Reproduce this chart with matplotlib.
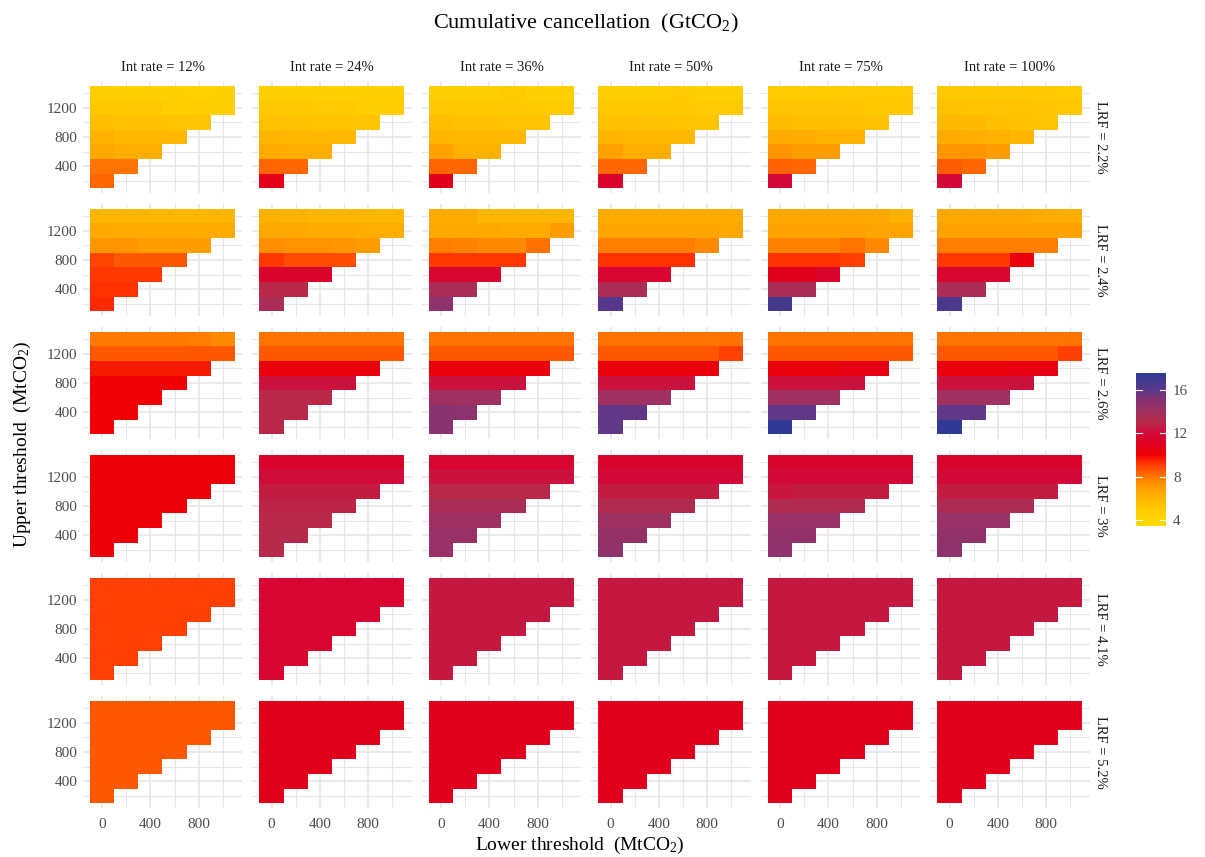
import numpy as np
import matplotlib.pyplot as plt
from matplotlib.colors import LinearSegmentedColormap, Normalize
from matplotlib.cm import ScalarMappable

plt.rcParams['font.family'] = ['Liberation Serif', 'DejaVu Serif']
plt.rcParams['mathtext.fontset'] = 'custom'
plt.rcParams['mathtext.rm'] = 'Liberation Serif'
plt.rcParams['mathtext.it'] = 'Liberation Serif:italic'

int_rates = ['12%', '24%', '36%', '50%', '75%', '100%']
lrf_levels = ['2.2%', '2.4%', '2.6%', '3%', '4.1%', '5.2%']
lower_thr = [0, 200, 400, 600, 800, 1000]
upper_thr = [200, 400, 600, 800, 1000, 1200, 1400]

# cumulative cancellation (GtCO2); one panel per int rate,
# rows from upper threshold 200 (bottom) to 1400 (top), values along lower threshold
lrf_2_2 = [
    [[8.3], [8.0, 8.0], [6.6, 6.3, 6.3], [6.1, 5.9, 5.9, 5.9], [5.6, 5.5, 5.5, 5.3, 5.2],
     [5.1, 5.0, 5.0, 4.7, 4.7, 4.6], [4.7, 4.6, 4.6, 4.5, 4.4, 4.5]],
    [[10.8], [8.3, 8.3], [6.5, 6.3, 6.3], [6.0, 5.9, 5.9, 5.8], [5.5, 5.4, 5.3, 5.3, 5.2],
     [5.0, 5.0, 4.9, 4.9, 4.7, 4.7], [4.6, 4.6, 4.6, 4.5, 4.5, 4.5]],
    [[11.0], [8.3, 8.3], [6.8, 6.2, 6.2], [6.0, 5.9, 5.9, 5.8], [5.6, 5.5, 5.5, 5.3, 5.3],
     [5.1, 5.1, 5.0, 5.0, 4.9, 4.8], [4.7, 4.7, 4.7, 4.9, 4.6, 4.6]],
    [[11.5], [8.3, 8.3], [6.8, 6.3, 6.3], [6.0, 5.9, 5.9, 5.8], [5.5, 5.5, 5.4, 5.3, 5.2],
     [5.1, 5.0, 5.0, 5.0, 4.8, 4.8], [4.7, 4.7, 4.7, 4.8, 4.5, 4.6]],
    [[12.0], [8.4, 8.3], [7.2, 7.0, 7.0], [6.4, 6.4, 6.2, 6.2], [5.7, 5.6, 5.6, 5.5, 5.4],
     [5.3, 5.3, 5.3, 5.2, 5.0, 5.0], [4.9, 4.9, 4.9, 4.8, 4.8, 4.8]],
    [[12.0], [8.5, 8.3], [7.2, 7.2, 7.0], [6.5, 6.3, 6.2, 6.0], [5.8, 5.8, 5.6, 5.5, 5.3],
     [5.4, 5.3, 5.3, 5.3, 5.2, 5.1], [5.0, 5.0, 5.0, 5.0, 5.0, 4.9]],
]
lrf_2_4 = [
    [[9.4], [9.3, 9.3], [9.2, 9.1, 9.1], [8.9, 8.6, 8.6, 8.6], [7.2, 7.2, 7.0, 7.0, 7.0],
     [6.6, 6.5, 6.5, 6.5, 6.4, 6.5], [6.0, 6.0, 5.9, 5.9, 5.9, 6.0]],
    [[13.6], [13.0, 13.0], [11.5, 11.5, 11.5], [9.2, 8.8, 8.8, 8.8], [7.4, 7.3, 7.3, 7.2, 7.0],
     [6.6, 6.6, 6.5, 6.5, 6.3, 6.3], [6.2, 6.1, 6.0, 6.0, 5.9, 5.9]],
    [[14.7], [13.6, 13.6], [11.6, 11.6, 11.6], [9.2, 9.2, 9.2, 9.2], [7.8, 7.7, 7.6, 7.6, 8.1],
     [6.6, 6.6, 6.6, 6.5, 6.5, 7.0], [6.5, 6.5, 6.0, 6.0, 6.0, 6.0]],
    [[16.2], [13.6, 13.6], [11.6, 11.6, 11.6], [9.3, 9.3, 9.3, 9.3], [7.8, 7.8, 7.8, 7.8, 7.6],
     [6.7, 6.7, 6.7, 6.7, 6.7, 6.6], [6.5, 6.5, 6.5, 6.5, 6.5, 6.5]],
    [[16.8], [13.6, 13.6], [11.0, 11.0, 11.5], [9.3, 9.3, 9.3, 9.0], [7.7, 7.7, 7.7, 8.0, 7.6],
     [6.8, 6.8, 6.8, 6.8, 6.7, 6.7], [6.6, 6.6, 6.6, 6.6, 6.6, 6.2]],
    [[16.6], [13.6, 13.6], [11.6, 11.6, 11.6], [9.2, 9.2, 9.2, 10.3], [7.8, 7.8, 7.8, 7.8, 7.8],
     [6.8, 6.8, 6.8, 6.8, 6.8, 6.8], [6.6, 6.6, 6.6, 6.6, 6.5, 6.3]],
]
lrf_2_6 = [
    [[10.0], [10.0, 10.0], [10.0, 10.0, 10.0], [10.0, 10.0, 10.0, 10.0], [9.6, 9.6, 9.6, 9.6, 9.6],
     [8.6, 8.6, 8.6, 8.6, 8.6, 8.6], [7.9, 7.9, 7.9, 7.9, 7.8, 7.6]],
    [[13.0], [13.0, 13.0], [13.0, 13.0, 13.0], [12.3, 12.3, 12.3, 12.3], [10.3, 10.3, 10.3, 10.3, 10.3],
     [8.6, 8.6, 8.6, 8.6, 8.6, 8.6], [8.0, 8.0, 8.0, 8.0, 8.0, 8.0]],
    [[15.0], [15.0, 14.8], [14.0, 14.0, 14.0], [12.3, 12.3, 12.3, 12.3], [10.3, 10.3, 10.3, 10.3, 10.3],
     [8.6, 8.6, 8.6, 8.6, 8.6, 8.6], [8.0, 8.0, 8.0, 8.0, 8.0, 8.0]],
    [[15.9], [15.9, 15.8], [14.0, 14.0, 14.0], [12.3, 12.3, 12.3, 12.3], [10.3, 10.3, 10.3, 10.3, 10.3],
     [8.6, 8.6, 8.6, 8.6, 8.6, 9.0], [8.0, 8.0, 8.0, 8.0, 8.0, 8.0]],
    [[17.5], [15.9, 15.9], [14.0, 14.0, 14.0], [12.3, 12.3, 12.3, 12.3], [10.3, 10.3, 10.3, 10.6, 10.6],
     [8.6, 8.6, 8.6, 8.6, 8.6, 8.6], [8.0, 8.0, 8.0, 8.0, 8.0, 8.0]],
    [[17.5], [15.9, 15.9], [14.0, 14.0, 14.0], [12.3, 12.3, 12.3, 12.3], [10.3, 10.3, 10.3, 10.5, 10.5],
     [8.6, 8.6, 8.6, 8.6, 8.6, 9.0], [8.0, 8.0, 8.0, 8.0, 8.0, 8.0]],
]
lrf_3 = [
    [[10.1], [10.1, 10.1], [10.1, 10.1, 10.1], [10.1, 10.1, 10.1, 10.1], [10.1, 10.1, 10.1, 10.1, 10.1],
     [10.1, 10.1, 10.1, 10.1, 10.1, 10.1], [10.1, 10.1, 10.1, 10.1, 10.1, 10.1]],
    [[13.1], [13.1, 13.1], [13.0, 13.0, 13.0], [12.9, 12.9, 12.9, 12.9], [12.6, 12.6, 12.6, 12.6, 12.6],
     [12.1, 12.1, 12.1, 12.1, 12.1, 12.1], [11.5, 11.5, 11.5, 11.5, 11.5, 11.5]],
    [[14.3], [14.3, 14.3], [14.1, 14.1, 14.1], [13.6, 13.6, 13.6, 13.6], [13.0, 13.0, 13.0, 13.0, 13.0],
     [12.3, 12.3, 12.3, 12.3, 12.3, 12.3], [11.6, 11.6, 11.6, 11.6, 11.6, 11.6]],
    [[14.6], [14.5, 14.5], [14.1, 14.1, 14.1], [13.3, 13.3, 13.3, 13.3], [12.6, 12.6, 12.6, 12.6, 12.6],
     [12.0, 12.0, 12.0, 12.0, 12.0, 12.0], [11.5, 11.5, 11.5, 11.5, 11.5, 11.5]],
    [[14.7], [14.6, 14.6], [14.3, 14.3, 14.3], [13.3, 13.3, 13.3, 13.3], [12.4, 12.6, 12.6, 12.6, 12.6],
     [12.0, 12.0, 12.0, 12.0, 12.0, 12.0], [11.5, 11.5, 11.5, 11.5, 11.5, 11.5]],
    [[14.7], [14.6, 14.6], [14.3, 14.3, 14.3], [13.5, 13.5, 13.5, 13.5], [12.6, 12.6, 12.6, 12.6, 12.6],
     [12.0, 12.0, 12.0, 12.0, 12.0, 12.0], [11.5, 11.5, 11.5, 11.5, 11.5, 11.5]],
]
lrf_4_1 = [
    [[9.0], [9.0, 9.0], [9.0, 9.0, 9.0], [9.0, 9.0, 9.0, 9.0], [9.0, 9.0, 9.0, 9.0, 9.0],
     [9.0, 9.0, 9.0, 9.0, 9.0, 9.0], [9.0, 9.0, 9.0, 9.0, 9.0, 9.0]],
    [[11.6], [11.6, 11.6], [11.6, 11.6, 11.6], [11.6, 11.6, 11.6, 11.6], [11.6, 11.6, 11.6, 11.6, 11.6],
     [11.6, 11.6, 11.6, 11.6, 11.6, 11.6], [11.6, 11.6, 11.6, 11.6, 11.6, 11.6]],
    [[12.5], [12.5, 12.5], [12.5, 12.5, 12.5], [12.5, 12.5, 12.5, 12.5], [12.5, 12.5, 12.5, 12.5, 12.5],
     [12.5, 12.5, 12.5, 12.5, 12.5, 12.5], [12.5, 12.5, 12.5, 12.5, 12.5, 12.5]],
    [[12.5], [12.5, 12.5], [12.5, 12.5, 12.5], [12.5, 12.5, 12.5, 12.5], [12.5, 12.5, 12.5, 12.5, 12.5],
     [12.5, 12.5, 12.5, 12.5, 12.5, 12.5], [12.5, 12.5, 12.5, 12.5, 12.5, 12.5]],
    [[12.5], [12.5, 12.5], [12.5, 12.5, 12.5], [12.5, 12.5, 12.5, 12.5], [12.5, 12.5, 12.5, 12.5, 12.5],
     [12.5, 12.5, 12.5, 12.5, 12.5, 12.5], [12.5, 12.5, 12.5, 12.5, 12.5, 12.5]],
    [[12.5], [12.5, 12.5], [12.5, 12.5, 12.5], [12.5, 12.5, 12.5, 12.5], [12.5, 12.5, 12.5, 12.5, 12.5],
     [12.5, 12.5, 12.5, 12.5, 12.5, 12.5], [12.5, 12.5, 12.5, 12.5, 12.5, 12.5]],
]
lrf_5_2 = [
    [[8.6], [8.6, 8.6], [8.6, 8.6, 8.6], [8.6, 8.6, 8.6, 8.6], [8.6, 8.6, 8.6, 8.6, 8.6],
     [8.6, 8.6, 8.6, 8.6, 8.6, 8.6], [8.6, 8.6, 8.6, 8.6, 8.6, 8.6]],
    [[10.9], [10.9, 10.9], [10.9, 10.9, 10.9], [10.9, 10.9, 10.9, 10.9], [10.9, 10.9, 10.9, 10.9, 10.9],
     [10.9, 10.9, 10.9, 10.9, 10.9, 10.9], [10.9, 10.9, 10.9, 10.9, 10.9, 10.9]],
    [[11.0], [11.0, 11.0], [11.0, 11.0, 11.0], [11.0, 11.0, 11.0, 11.0], [11.0, 11.0, 11.0, 11.0, 11.0],
     [11.0, 11.0, 11.0, 11.0, 11.0, 11.0], [11.0, 11.0, 11.0, 11.0, 11.0, 11.0]],
    [[11.0], [11.0, 11.0], [11.0, 11.0, 11.0], [11.0, 11.0, 11.0, 11.0], [11.0, 11.0, 11.0, 11.0, 11.0],
     [11.0, 11.0, 11.0, 11.0, 11.0, 11.0], [11.0, 11.0, 11.0, 11.0, 11.0, 11.0]],
    [[11.0], [11.0, 11.0], [11.0, 11.0, 11.0], [11.0, 11.0, 11.0, 11.0], [11.0, 11.0, 11.0, 11.0, 11.0],
     [11.0, 11.0, 11.0, 11.0, 11.0, 11.0], [11.0, 11.0, 11.0, 11.0, 11.0, 11.0]],
    [[11.0], [11.0, 11.0], [11.0, 11.0, 11.0], [11.0, 11.0, 11.0, 11.0], [11.0, 11.0, 11.0, 11.0, 11.0],
     [11.0, 11.0, 11.0, 11.0, 11.0, 11.0], [11.0, 11.0, 11.0, 11.0, 11.0, 11.0]],
]
all_panels = [lrf_2_2, lrf_2_4, lrf_2_6, lrf_3, lrf_4_1, lrf_5_2]

# colour scale (yellow -> orange -> red -> purple)
vmin, vmax = 3.47, 17.6
stops = [3.47, 4.5, 5.5, 6.5, 7.5, 8.5, 9.3, 10.0, 11.0, 12.0, 13.0, 14.0, 15.0, 16.0, 17.6]
stop_cols = ['#FFDA00', '#FFD000', '#FFC000', '#FFAA00', '#FF8C00', '#FF5C00', '#FF3000', '#EE0005',
             '#E0001E', '#D2083A', '#B82848', '#A0305F', '#883270', '#5C3888', '#2E3A96']
cmap = LinearSegmentedColormap.from_list(
    'canc', [((s - vmin) / (vmax - vmin), c) for s, c in zip(stops, stop_cols)])
norm = Normalize(vmin, vmax)

W, H = 1205, 857
fig = plt.figure(figsize=(W / 100, H / 100), dpi=100)

x_edges = np.arange(-100, 1101, 200)
y_edges = np.arange(100, 1501, 200)
grid_col = '#E6E6E6'
txt_col = '#4D4D4D'

for r, panels in enumerate(all_panels):
    for c, panel in enumerate(panels):
        left = 82.7 + c * 169.5
        top = 80.6 + r * 123
        ax = fig.add_axes([left / W, 1 - (top + 112.75) / H, 159.5 / W, 112.75 / H])
        Z = np.full((len(upper_thr), len(lower_thr)), np.nan)
        for i, row in enumerate(panel):
            Z[i, :len(row)] = row
        ax.pcolormesh(x_edges, y_edges, np.ma.masked_invalid(Z), cmap=cmap, norm=norm,
                      shading='flat', antialiased=False, zorder=2)
        ax.set_xlim(-160, 1160)
        ax.set_ylim(30, 1570)
        ax.set_xticks([0, 400, 800])
        ax.set_xticks([200, 600, 1000], minor=True)
        ax.set_yticks([400, 800, 1200])
        ax.set_yticks([200, 600, 1000, 1400], minor=True)
        ax.grid(which='major', color=grid_col, lw=1.2, zorder=0)
        ax.grid(which='minor', color=grid_col, lw=0.8, zorder=0)
        ax.set_axisbelow(True)
        for s in ax.spines.values():
            s.set_visible(False)
        ax.tick_params(which='both', length=0, labelsize=11, labelcolor=txt_col, pad=4)
        if c != 0:
            ax.set_yticklabels([])
        if r != len(all_panels) - 1:
            ax.set_xticklabels([])
        else:
            ax.tick_params(axis='x', pad=7)
        if r == 0:
            ax.text(0.5, 1 + 13.5 / 112.75, 'Int rate = ' + int_rates[c], transform=ax.transAxes,
                    ha='center', va='center', fontsize=10.5, color='#1A1A1A')
        if c == len(panels) - 1:
            ax.text(1 + 11 / 159.5, 0.5, 'LRF = ' + lrf_levels[r], transform=ax.transAxes,
                    ha='center', va='center', rotation=270, fontsize=10.5, color='#1A1A1A')

fig.text(586 / W, 1 - 23 / H, r'Cumulative cancellation  (GtCO$_2$)', ha='center', va='center',
         fontsize=16)
fig.text(580 / W, 1 - 845 / H, r'Lower threshold  (MtCO$_2$)', ha='center', va='center', fontsize=14)
fig.text(22 / W, 1 - 444 / H, r'Upper threshold  (MtCO$_2$)', ha='center', va='center',
         rotation=90, fontsize=14)

# colour bar
cax = fig.add_axes([1136 / W, 1 - 525.7 / H, 30 / W, 153 / H])
cb = fig.colorbar(ScalarMappable(norm=norm, cmap=cmap), cax=cax)
cb.outline.set_visible(False)
cb.set_ticks([4, 8, 12, 16])
cax.tick_params(length=0, labelsize=11, labelcolor=txt_col, pad=5)
for t in [4, 8, 12, 16]:
    cax.plot([0, 0.2], [t, t], color='white', lw=0.8, transform=cax.get_yaxis_transform())
    cax.plot([0.8, 1.0], [t, t], color='white', lw=0.8, transform=cax.get_yaxis_transform())

fig.savefig('out.png', dpi=100)
